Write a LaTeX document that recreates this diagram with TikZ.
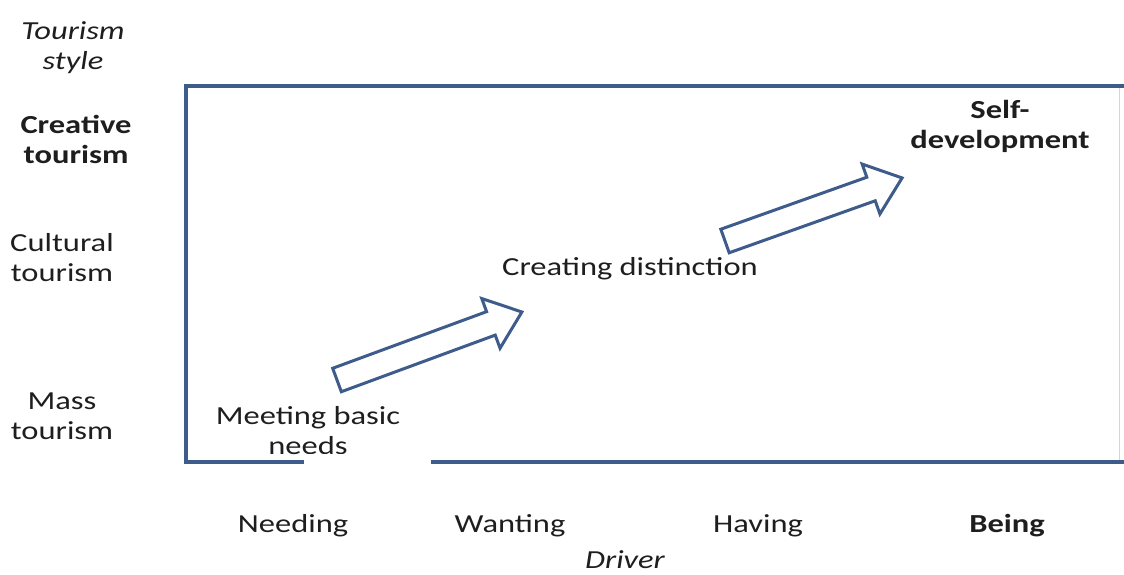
\documentclass[tikz,border=0pt]{standalone}
\usepackage{fontspec}
\setmainfont{Carlito}[FakeStretch=1.25]
\definecolor{frameblue}{HTML}{3D5C8C}
\definecolor{txt}{HTML}{1E1E1E}
\tikzset{
  lbl/.style={text=txt, inner sep=0pt, align=center, font=\fontsize{26}{30}\selectfont},
  blbl/.style={lbl, font=\fontsize{26}{30}\selectfont\bfseries},
  ilbl/.style={lbl, font=\fontsize{26}{30}\selectfont\itshape},
  frame/.style={draw=frameblue, line width=3.2pt},
  bigarrow/.style={draw=frameblue, line width=3pt, fill=white, line join=miter}
}
\newcommand{\blockarrow}[1]{%
  \draw[bigarrow] (0,-12.5) -- (#1-33,-12.5) -- (#1-33,-26.5) -- (#1,0)
    -- (#1-33,26.5) -- (#1-33,12.5) -- (0,12.5) -- cycle;}
\begin{document}
\begin{tikzpicture}[x=1pt,y=-1pt]
\useasboundingbox (0,0) rectangle (1124,574);
% frame
\draw[draw=frameblue!25, line width=1pt] (1119,86) -- (1119,462);
\draw[frame, line cap=rect] (1124,86) -- (186,86) -- (186,462) -- (304,462);
\draw[frame] (431,462) -- (1124,462);
% arrows
\begin{scope}[shift={(337,380)}, rotate=20.2]
  \blockarrow{197}
\end{scope}
\begin{scope}[shift={(725,241)}, rotate=19.6]
  \blockarrow{188}
\end{scope}
% axis labels
\node[ilbl] (ts) at (73,48) {Tourism\\style};
\node[blbl] (ct) at (76,139) {Creative\\tourism};
\node[lbl] (cu) at (62,258) {Cultural\\tourism};
\node[lbl] (mt) at (62,416) {Mass\\tourism};
% inner labels
\node[lbl] (mb) at (308,431) {Meeting basic\\needs};
\fill[white] (304,453.5) rectangle (431,480);
\node[lbl, anchor=base] (cd) at (630,275) {Creating distinction};
\node[blbl] (sd) at (1000,126) {Self-\\development};
% bottom labels
\node[lbl, anchor=base] (nd) at (293,532) {Needing};
\node[lbl, anchor=base] (wt) at (510,532) {Wanting};
\node[lbl, anchor=base] (hv) at (758,532) {Having};
\node[blbl, anchor=base] (bg) at (1007,532) {Being};
\node[ilbl, anchor=base] (dr) at (625,568) {Driver};
\end{tikzpicture}
\end{document}
